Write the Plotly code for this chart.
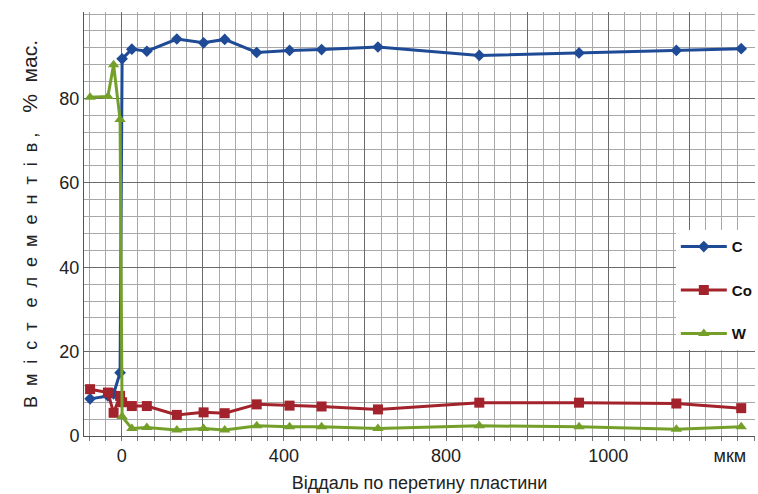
import plotly.graph_objects as go

# distance (µm, plotted scale) and element contents (% mass)
x_um = [-78, -34, -20, -4, 1, 25, 62, 136, 202, 254, 333, 414, 493, 632, 882, 1128, 1368, 1528]
c_vals = [8.8, 9.5, 10.0, 15.0, 89.4, 91.7, 91.2, 94.1, 93.2, 94.0, 90.9, 91.4, 91.6, 92.2, 90.2, 90.8, 91.4, 91.8]
co_vals = [11.1, 10.3, 5.5, 9.5, 8.0, 7.1, 7.1, 5.0, 5.6, 5.4, 7.5, 7.2, 7.0, 6.3, 7.9, 7.9, 7.7, 6.6]
w_vals = [80.3, 80.5, 88.0, 75.0, 4.6, 1.8, 2.0, 1.4, 1.8, 1.4, 2.4, 2.2, 2.2, 1.8, 2.4, 2.2, 1.6, 2.2]

x_tickvals = [0, 400, 800, 1200, 1500]
x_ticktext = ["0", "400", "800", "1000", "мкм"]
y_tickvals = [0, 20, 40, 60, 80]

X_RANGE = [-93, 1562]
Y_RANGE = [0, 100.5]

font_fam = "Liberation Sans, Arial, sans-serif"
fig = go.Figure()

series = [
    ("C", c_vals, "#1F4A96", "diamond", 9),
    ("Co", co_vals, "#A2232B", "square", 10),
    ("W", w_vals, "#74A02A", "triangle-up", 10),
]
for i, (name, vals, col, sym, sz) in enumerate(series):
    fig.add_trace(go.Scatter(
        x=x_um, y=vals, name=name, mode="lines+markers",
        line=dict(color=col, width=3, shape="linear"),
        marker=dict(symbol=sym, size=sz, color=col),
        legendgroup=name,
    ))

# invisible helper trace to carry the overlay axis for major grid lines
fig.add_trace(go.Scatter(x=x_um, y=co_vals, xaxis="x2", mode="lines",
                         line=dict(width=0), opacity=0, showlegend=False,
                         hoverinfo="skip"))

ytitle = ("В  м  і  с  т   е  л  е  м  е  н  т  і  в ,    "
          "<span style='font-size:21px'>%  мас.</span>")

fig.update_layout(
    width=758, height=494,
    margin=dict(l=84, r=1, t=12, b=58),
    paper_bgcolor="white", plot_bgcolor="white",
    font=dict(family=font_fam, size=18, color="#222222"),
    showlegend=True,
    legend=dict(
        x=0.882, xanchor="left", y=0.485, yanchor="top",
        bgcolor="white", borderwidth=0,
        font=dict(family=font_fam, size=15, color="#111111", weight="bold"),
        traceorder="grouped", tracegroupgap=21, itemwidth=46,
    ),
    xaxis=dict(
        range=X_RANGE, tickmode="array", tickvals=x_tickvals, ticktext=x_ticktext,
        showgrid=False, zeroline=False, showline=True, linecolor="#555555",
        ticks="", ticklabelstandoff=3, automargin=False,
        tickfont=dict(size=18, color="#222222"),
        minor=dict(dtick=40, tick0=0, showgrid=True, gridcolor="#a8a8a8",
                   ticks="outside", ticklen=4, tickcolor="#777777"),
        title=dict(text="Віддаль по перетину пластини", standoff=11,
                   font=dict(size=18, color="#222222")),
    ),
    xaxis2=dict(
        overlaying="x", side="bottom", range=X_RANGE,
        tick0=0, dtick=200, showticklabels=False, ticks="",
        showgrid=True, gridcolor="#6a6a6a", gridwidth=1, zeroline=False,
    ),
    yaxis=dict(
        range=Y_RANGE, tickmode="array", tickvals=y_tickvals,
        showgrid=True, gridcolor="#6a6a6a", gridwidth=1,
        zeroline=False, showline=True, linecolor="#555555",
        ticks="", tickfont=dict(size=18, color="#222222"),
        minor=dict(dtick=4, tick0=0, showgrid=True, gridcolor="#a8a8a8"),
        title=dict(text=ytitle, standoff=17,
                   font=dict(size=18, color="#222222")),
    ),
)

fig.write_html("out.html", config={"displayModeBar": False},
               post_script="document.body.style.margin='0';document.body.style.padding='0';")
